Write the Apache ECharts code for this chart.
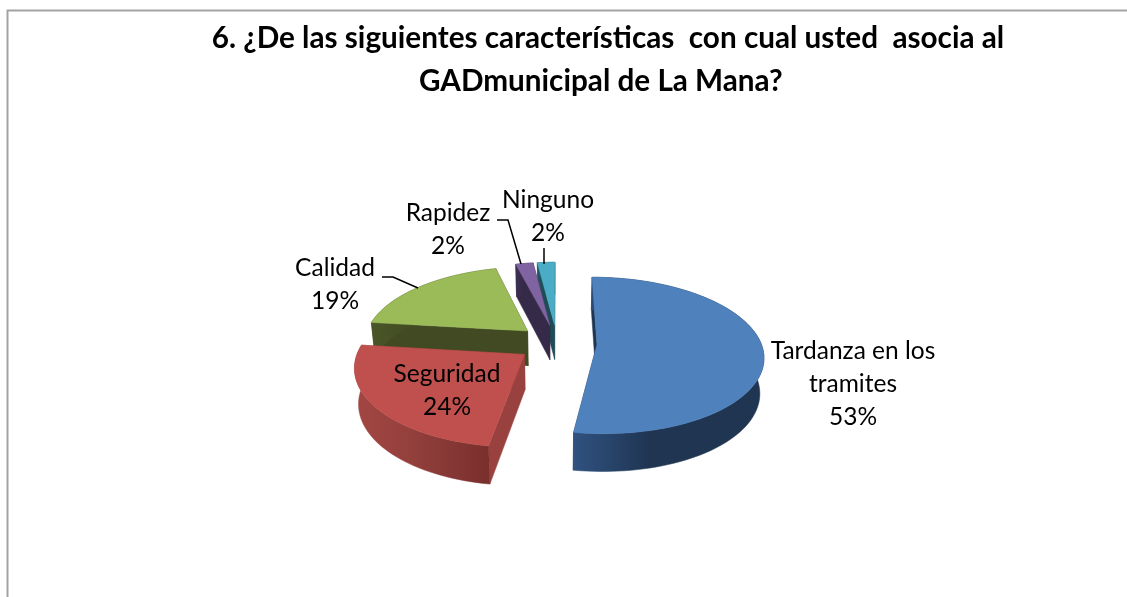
<!DOCTYPE html>
<html>
<head>
<meta charset="utf-8">
<style>
html, body { margin: 0; padding: 0; background: #fff; }
#Pie { width: 1127px; height: 597px; }
</style>
<script src="https://cdn.jsdelivr.net/npm/echarts@6/dist/echarts.min.js"></script>
</head>
<body>
<div id="Pie"></div>
<script>
var titleText = '6. ¿De las siguientes características  con cual usted  asocia al\nGADmunicipal de La Mana?  ';
var categories = ['Tardanza en los\ntramites', 'Seguridad', 'Calidad', 'Rapidez', 'Ninguno'];
var values = [52.5, 24.4, 19.1, 2, 2];

var topColors = ['#4f81bd', '#c0504d', '#9bbb59', '#8064a2', '#4bacc6'];
var wallColors = ['#1f3552', '#98413e', '#414a22', '#352a47', '#1f4b57'];
var rimLeft = ['#305280', '#a34643', '#4a5527', '#3d3052', '#245664'];
var rimMiddle = ['#1f3552', '#94403d', '#414a22', '#352a47', '#1f4b57'];
var rimRight = ['#1f3552', '#792f2d', '#414a22', '#352a47', '#1f4b57'];

var labelSpots = [[853, 384], [447, 391], [335, 285], [448, 230], [548, 217]];
var leaders = [null, null, [[382, 277], [393, 277], [418, 288]], [[497, 220], [508, 220], [521, 264]], [[544, 248], [544, 264]]];

// fake 3d view: pie plane seen at a tilt with a little perspective
var radius = 164, explode = 40, tilt = 0.465, persp = 1168, depth = 35;
var viewX = 557, viewY = 343;
var fontName = 'Lato, "Noto Sans", sans-serif';

var total = values.reduce(function (a, b) { return a + b; }, 0);
var slices = [];
var acc = 0;
values.forEach(function (v) {
    var a0 = acc / total * 360;
    acc += v;
    slices.push({ a0: a0, a1: acc / total * 360 });
});

function project(deg, r, midDeg, bottom) {
    var t = deg * Math.PI / 180, m = midDeg * Math.PI / 180;
    var x = explode * Math.sin(m) + r * Math.sin(t);
    var z = -explode * Math.cos(m) - r * Math.cos(t);
    var k = 1 / (1 - z / persp);
    return [
        viewX + x * k * (bottom ? 0.98 : 1),
        viewY + z * tilt * k + (bottom ? depth * Math.sqrt(k) : 0)
    ];
}

function arc(a0, a1, mid, bottom) {
    var pts = [];
    var n = Math.max(4, Math.ceil((a1 - a0) / 2));
    for (var i = 0; i <= n; i++) {
        pts.push(project(a0 + (a1 - a0) * i / n, radius, mid, bottom));
    }
    return pts;
}

function poly(points, fill) {
    return { type: 'polygon', shape: { points: points }, style: { fill: fill, stroke: fill, lineWidth: 0.5 } };
}

function wall(deg, mid, fill) {
    return poly([
        project(deg, 0, mid, false),
        project(deg, radius, mid, false),
        project(deg, radius, mid, true),
        project(deg, 0, mid, true)
    ], fill);
}

function renderSlice(params, api) {
    var i = api.value(0);
    var s = slices[i];
    var mid = (s.a0 + s.a1) / 2;
    var top = arc(s.a0, s.a1, mid, false);
    var low = arc(s.a0, s.a1, mid, true).reverse();
    var rimFill = new echarts.graphic.LinearGradient(0, 0, 1, 0, [
        { offset: 0, color: rimLeft[i] },
        { offset: 0.4, color: rimMiddle[i] },
        { offset: 1, color: rimRight[i] }
    ]);
    return {
        type: 'group',
        children: [
            wall(s.a1, mid, wallColors[i]),
            wall(s.a0, mid, wallColors[i]),
            poly(top.concat(low), rimFill),
            poly([project(s.a0, 0, mid, false)].concat(top), topColors[i])
        ]
    };
}

function renderLabel(params, api) {
    var i = api.value(0);
    var kids = [{
        type: 'text',
        style: {
            text: categories[i] + '\n' + Math.round(values[i]) + '%',
            x: labelSpots[i][0],
            y: labelSpots[i][1],
            align: 'center',
            verticalAlign: 'middle',
            font: '24.5px ' + fontName,
            lineHeight: 33,
            fill: '#000'
        }
    }];
    if (leaders[i]) {
        kids.push({
            type: 'polyline',
            shape: { points: leaders[i] },
            style: { stroke: '#000', lineWidth: 1.5, fill: null }
        });
    }
    return { type: 'group', children: kids };
}

// back slices first so the nearer ones cover them
var drawOrder = [4, 3, 2, 1, 0];

var myChart = echarts.init(document.getElementById('Pie'), null, { renderer: 'canvas' });
myChart.setOption({
    animation: false,
    backgroundColor: '#fff',
    title: {
        text: titleText,
        left: 603,
        top: 12,
        textAlign: 'center',
        textStyle: {
            fontFamily: fontName,
            fontWeight: 'bold',
            fontSize: 29.7,
            lineHeight: 43,
            color: '#000'
        }
    },
    graphic: [
        { type: 'polyline', silent: true, shape: { points: [[7.5, 597], [7.5, 10.5], [1127, 10.5]] }, style: { stroke: '#a3a3a3', lineWidth: 2, fill: null } }
    ],
    series: [
        { type: 'custom', coordinateSystem: 'none', silent: true, renderItem: renderSlice, data: drawOrder.map(function (i) { return [i]; }), z: 2 },
        { type: 'custom', coordinateSystem: 'none', silent: true, renderItem: renderLabel, data: categories.map(function (c, i) { return [i]; }), z: 3 }
    ]
});
</script>
</body>
</html>
